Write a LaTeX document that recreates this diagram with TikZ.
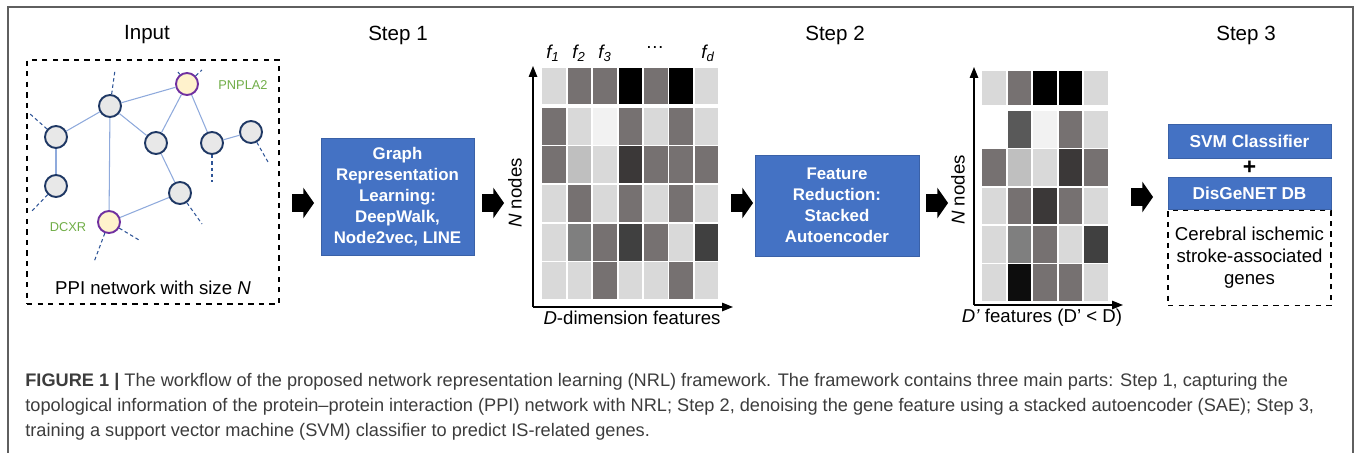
\documentclass[tikz,border=0pt]{standalone}
\usepackage{fontspec}
\setmainfont{Liberation Sans}
\usepackage{xcolor}
\usepackage{tikz}
\usetikzlibrary{arrows.meta,positioning,calc,shapes.arrows}
\definecolor{ink}{RGB}{0,0,0}
\definecolor{boxblue}{RGB}{68,114,196}
\definecolor{framegray}{RGB}{95,95,95}
\definecolor{navy}{RGB}{31,56,100}
\definecolor{edgeblue}{RGB}{143,170,220}
\definecolor{stubblue}{RGB}{47,85,151}
\definecolor{hitpurple}{RGB}{112,48,160}
\definecolor{hitfill}{RGB}{255,242,204}
\definecolor{nodefill}{RGB}{232,232,232}
\definecolor{genegreen}{RGB}{112,173,71}
\definecolor{captext}{RGB}{60,60,60}
% cell shades
\definecolor{cL}{RGB}{217,217,217}
\definecolor{cM}{RGB}{118,113,113}
\definecolor{cK}{RGB}{0,0,0}
\definecolor{cW}{RGB}{242,242,242}
\definecolor{cS}{RGB}{191,191,191}
\definecolor{cD}{RGB}{59,56,56}
\definecolor{cG}{RGB}{127,127,127}
\definecolor{cN}{RGB}{64,64,64}
\definecolor{cE}{RGB}{89,89,89}
\definecolor{cB}{RGB}{13,13,13}
\definecolor{cO}{RGB}{255,255,255}
\newcommand{\featlab}[1]{\textit{f\textsubscript{#1}}}
\tikzset{
  heading/.style={font=\fontsize{11.7}{14}\selectfont,text=ink},
  body/.style={font=\fontsize{10.6}{12.5}\selectfont,align=center,text=ink},
  stepbox/.style={fill=boxblue,draw=boxblue!85!black,text=white,align=center,
    font=\fontsize{9.6}{11.9}\selectfont\bfseries,inner sep=0pt},
  protein/.style={circle,draw=navy,line width=1.1pt,fill=nodefill,
    minimum size=0.44cm,inner sep=0pt},
  hit/.style={protein,draw=hitpurple,fill=hitfill},
  link/.style={edgeblue,line width=0.6pt},
  stub/.style={stubblue,line width=0.6pt,dash pattern=on 2pt off 1.6pt},
  genelabel/.style={text=genegreen,font=\fontsize{7.3}{9}\selectfont},
  push/.style={single arrow,fill=black,inner xsep=0.15cm,inner ysep=0.17cm,
    single arrow head extend=0.13cm,single arrow tip angle=110},
  axis/.style={line width=0.8pt,-{Triangle[length=2.2mm,width=1.7mm]}},
  cell/.style={draw=white,line width=1pt},
  caption/.style={font=\fontsize{10.35}{12}\selectfont,text=captext,anchor=base west,inner sep=0pt}
}
\begin{document}
\begin{tikzpicture}[x=0.02cm,y=-0.02cm]
  \useasboundingbox (0,0) rectangle (1357,453);
  \draw[framegray,line width=0.8pt] (8,453) -- (8,7) -- (1353,7) -- (1353,453);

  % headings
  \node[heading] (input) at (147,35) {Input};
  \node[heading] (step1) at (398,35) {Step 1};
  \node[heading] (step2) at (835,35) {Step 2};
  \node[heading] (step3) at (1246,35) {Step 3};

  % input network
  \node[draw,dashed,line width=0.6pt,minimum width=5.04cm,minimum height=4.88cm] (inbox) at (153,182) {};
  \node[body] (ppi) at (153,288) {PPI network with size \textit{N}};
  \node[hit] (pnpla) at (187,84) {};
  \node[protein] (hub) at (110,106) {};
  \node[protein] (lefta) at (56,137) {};
  \node[protein] (leftb) at (56,186) {};
  \node[protein] (mid) at (156,143) {};
  \node[protein] (righta) at (212,143) {};
  \node[protein] (rightb) at (251,132) {};
  \node[protein] (lowmid) at (180,193) {};
  \node[hit] (dcxr) at (109,222) {};
  \node[genelabel] at (243,85) {PNPLA2};
  \node[genelabel] at (68,227) {DCXR};
  \foreach \a/\b in {hub/pnpla,hub/lefta,hub/mid,hub/dcxr,pnpla/mid,pnpla/righta,
    righta/rightb,lefta/leftb,mid/lowmid,lowmid/dcxr}
    {\draw[link] (\a) -- (\b);}
  \coordinate (s1) at (115,70);
  \coordinate (s2) at (178,72);
  \coordinate (s3) at (202,70);
  \coordinate (s4) at (29,113);
  \coordinate (s5) at (212,182);
  \coordinate (s6) at (268,162);
  \coordinate (s7) at (31,212);
  \coordinate (s8) at (202,224);
  \coordinate (s9) at (139,240);
  \coordinate (s10) at (94,262);
  \foreach \a/\b in {hub/s1,pnpla/s2,pnpla/s3,lefta/s4,righta/s5,rightb/s6,
    leftb/s7,lowmid/s8,dcxr/s9,dcxr/s10}
    {\draw[stub] (\a) -- (\b);}

  % step 1
  \node[push] (p1) at (300,203) {};
  \node[stepbox,minimum width=3.06cm,minimum height=2.34cm] (grl) at (397.5,196.5)
    {Graph\\Representation\\Learning:\\DeepWalk,\\Node2vec, LINE};
  \node[push] (p2) at (490,203) {};

  % feature matrix
  \foreach \t/\h/\row in {67.5/37/{cL,cM,cM,cK,cM,cK,cL},
    107/38.6/{cM,cL,cW,cM,cL,cM,cL},145.6/38.6/{cM,cS,cL,cD,cM,cM,cM},
    184.2/38.6/{cL,cM,cL,cM,cL,cM,cL},222.8/38.6/{cL,cG,cM,cN,cM,cL,cN},
    261.4/38.6/{cL,cL,cM,cL,cL,cM,cL}}
    {\foreach \s [count=\c] in \row
      {\filldraw[cell,fill=\s] ({541.5+(\c-1)*25.4},\t) rectangle ({541.5+\c*25.4},\t+\h);}}
  \coordinate (o1) at (533,307);
  \coordinate (y1) at (533,66);
  \coordinate (x1) at (733,307);
  \draw[axis] (o1) -- (y1);
  \draw[axis] (o1) -- (x1);
  \node[body] (f1) at (553,53) {\featlab{1}};
  \node[body] (f2) at (579,53) {\featlab{2}};
  \node[body] (f3) at (605,53) {\featlab{3}};
  \node[body] (fdots) at (655,48) {…};
  \node[body] (fd) at (708,53) {\featlab{d}};
  \node[body,rotate=90] (rows1) at (515,193) {\textit{N} nodes};
  \node[body] (cols1) at (632,318) {\textit{D}-dimension features};

  % step 2
  \node[push] (p3) at (739,203) {};
  \node[stepbox,minimum width=3.28cm,minimum height=2.02cm] (sae) at (837,205.5)
    {Feature\\Reduction:\\Stacked\\Autoencoder};
  \node[push] (p4) at (934,203) {};

  % reduced matrix
  \foreach \t/\h/\row in {70/36/{cL,cM,cK,cK,cL},
    110/38.4/{cO,cE,cW,cM,cL},148.4/38.4/{cM,cS,cL,cD,cM},
    186.8/38.4/{cL,cM,cD,cM,cL},225.2/38.4/{cL,cG,cM,cL,cN},
    263.6/38.4/{cL,cB,cM,cM,cL}}
    {\foreach \s [count=\c] in \row
      {\filldraw[cell,fill=\s] ({981.5+(\c-1)*25.4},\t) rectangle ({981.5+\c*25.4},\t+\h);}}
  \coordinate (o2) at (974,305);
  \coordinate (y2) at (974,67);
  \coordinate (x2) at (1123,305);
  \draw[axis] (o2) -- (y2);
  \draw[axis] (o2) -- (x2);
  \node[body,rotate=90] (rows2) at (958,190) {\textit{N} nodes};
  \node[body] (cols2) at (1042,318) {\textit{D’} features (D’ < D)};

  % step 3
  \node[push] (p5) at (1139,197) {};
  \node[stepbox,minimum width=3.26cm,minimum height=0.68cm,font=\fontsize{9.8}{12}\selectfont\bfseries] (svm) at (1249.5,141) {SVM Classifier};
  \node[stepbox,minimum width=3.26cm,minimum height=0.64cm,font=\fontsize{9.8}{12}\selectfont\bfseries,below=0.38cm of svm] (dis) {DisGeNET DB};
  \node[font=\fontsize{13}{13}\selectfont\bfseries] (plus) at ($(svm.south)!0.5!(dis.north)$) {+};
  \node[draw,dashed,line width=0.6pt,minimum width=3.26cm,minimum height=1.9cm,
    below=0pt of dis,body] (genes) {Cerebral ischemic\\stroke-associated\\genes};

  % caption
  \node[caption] (cap1) at (25,386) {\textbf{FIGURE 1 |} The workflow of the proposed network representation learning (NRL) framework. The framework contains three main parts: Step 1, capturing the};
  \node[caption] (cap2) at (25,411) {topological information of the protein–protein interaction (PPI) network with NRL; Step 2, denoising the gene feature using a stacked autoencoder (SAE); Step 3,};
  \node[caption] (cap3) at (25,436) {training a support vector machine (SVM) classifier to predict IS-related genes.};
\end{tikzpicture}
\end{document}
